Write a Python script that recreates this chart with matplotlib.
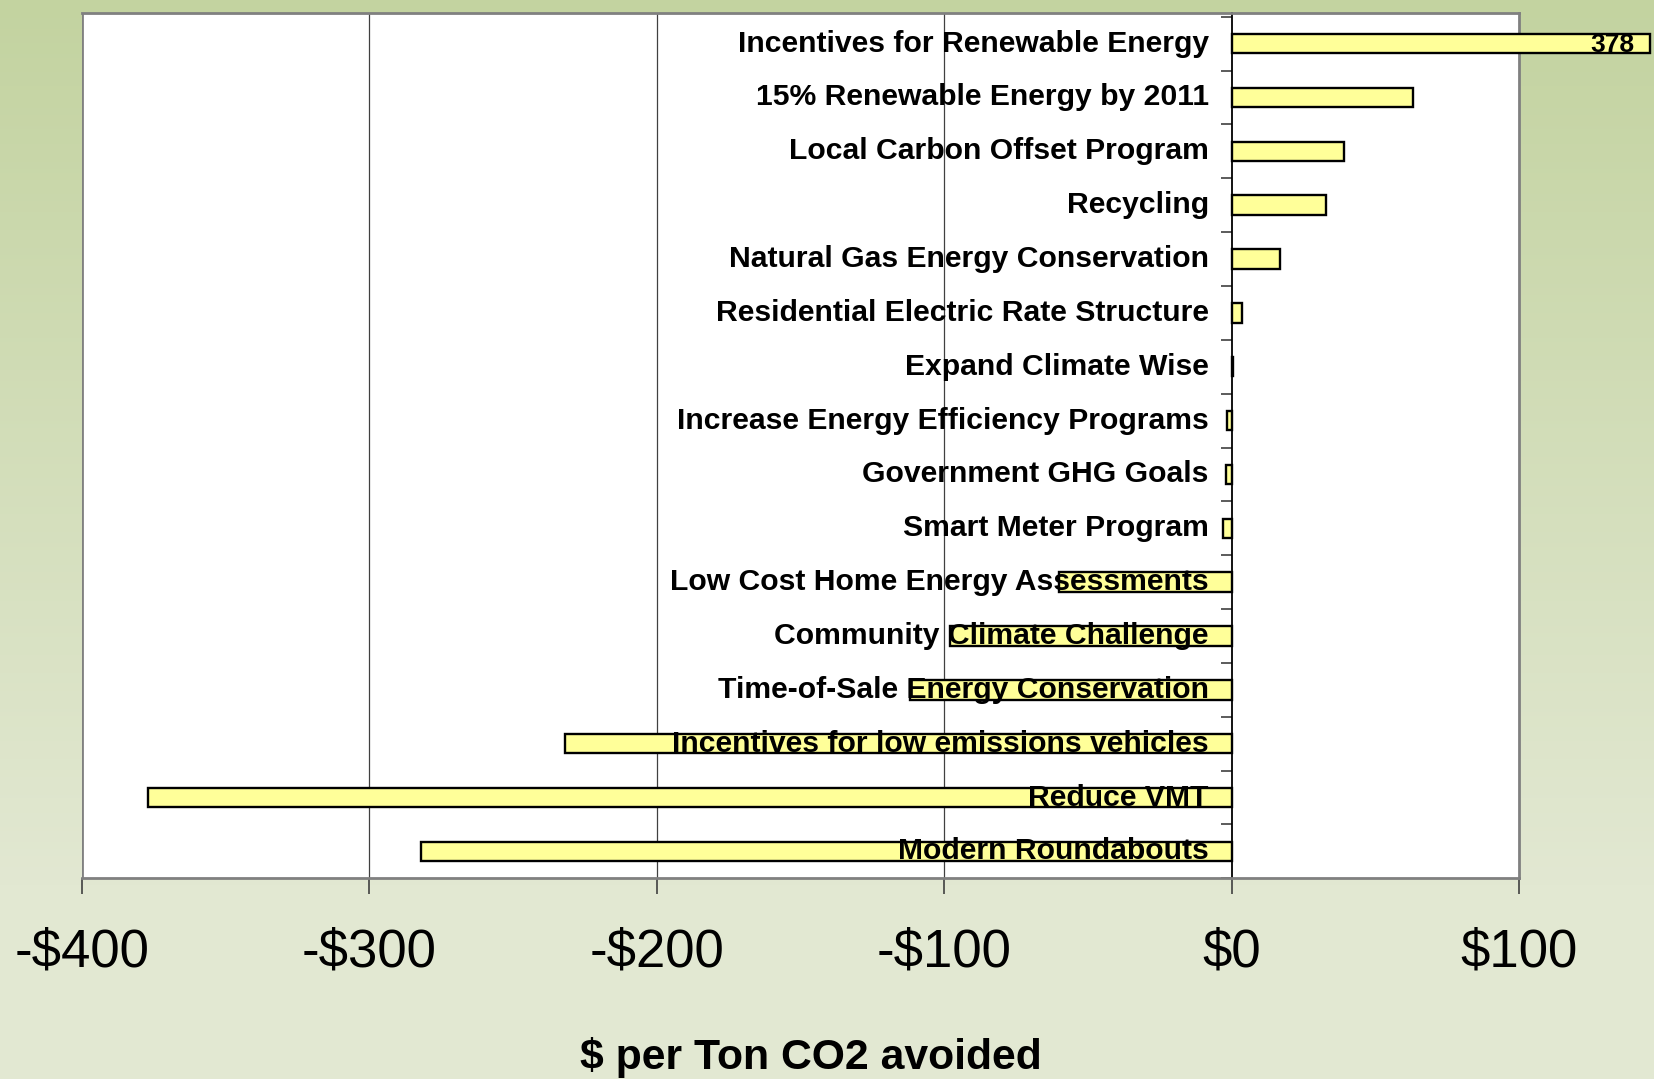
import numpy as np
import matplotlib
matplotlib.use("Agg")
import matplotlib.pyplot as plt

# data, top to bottom as in the chart
programs = [
    "Incentives for Renewable Energy",
    "15% Renewable Energy by 2011",
    "Local Carbon Offset Program",
    "Recycling",
    "Natural Gas Energy Conservation",
    "Residential Electric Rate Structure",
    "Expand Climate Wise",
    "Increase Energy Efficiency Programs",
    "Government GHG Goals",
    "Smart Meter Program",
    "Low Cost Home Energy Assessments",
    "Community Climate Challenge",
    "Time-of-Sale Energy Conservation",
    "Incentives for low emissions vehicles",
    "Reduce VMT",
    "Modern Roundabouts",
]
cost_per_ton = [378, 63, 39, 33, 17, 3.5, 0.6, -1.5, -2, -3,
                -60, -98, -112, -232, -377, -282]
x_ticks = [-400, -300, -200, -100, 0, 100]
x_ticklabels = ["-$400", "-$300", "-$200", "-$100", "$0", "$100"]
bar_cap = 145.5  # the 378 bar is drawn broken at the figure edge

plt.rcParams['font.family'] = ['Liberation Sans', 'DejaVu Sans']

fig = plt.figure(figsize=(16.54, 10.79), dpi=100)

# background gradient
bg = fig.add_axes([0, 0, 1, 1], zorder=-10)
t = np.clip(np.linspace(0, 1, 300) / 0.82, 0, 1)[:, None]
top = np.array([195, 211, 160]) / 255
bot = np.array([226, 232, 210]) / 255
grad = top[None, None, :] * (1 - t[..., None]) + bot[None, None, :] * t[..., None]
grad = np.repeat(grad, 2, axis=1)
bg.imshow(grad, aspect='auto', extent=[0, 1, 0, 1])
bg.axis('off')

ax = fig.add_axes([0.0496, 0.186, 0.8688, 0.802])
ax.set_facecolor('white')

y = np.arange(len(programs))
shown = [min(v, bar_cap) for v in cost_per_ton]
ax.barh(y, shown, height=0.36, color='#ffff99', edgecolor='black',
        linewidth=1.7, zorder=3, clip_on=False)

for yi, name in zip(y, programs):
    ax.text(-8, yi, name, ha='right', va='center', fontsize=21.7,
            fontweight='bold', zorder=5)

# value label for the broken bar
for yi, v in zip(y, cost_per_ton):
    if v > bar_cap:
        ax.text(bar_cap - 5.5, yi + 0.02, f"{v:.0f}", ha='right', va='center',
                fontsize=19, fontweight='bold', zorder=5, clip_on=False)

ax.set_xlim(-400, 100)
ax.set_ylim(len(programs) - 0.5, -0.57)

for gx in [-300, -200, -100]:
    ax.axvline(gx, color='#404040', linewidth=0.9, zorder=1)

# frame
for side in ['top', 'right', 'bottom']:
    ax.spines[side].set_color('#808080')
    ax.spines[side].set_linewidth(2)
ax.spines['left'].set_position(('data', 0))
ax.spines['left'].set_color('black')
ax.spines['left'].set_linewidth(1.3)
ax.axvline(-400, color='#808080', linewidth=2, zorder=2)

ax.set_yticks(np.arange(len(programs) + 1) - 0.5)
ax.set_yticklabels([])
ax.tick_params(axis='y', direction='out', length=8, width=1.2,
               color='#404040')

ax.set_xticks(x_ticks)
ax.set_xticklabels(x_ticklabels, fontsize=38)
ax.tick_params(axis='x', direction='out', length=11.5, width=1.2,
               color='#404040', pad=24)

fig.text(0.49, 0.02, "$ per Ton CO2 avoided", ha='center', va='center',
         fontsize=30.8, fontweight='bold')

fig.savefig("out.png", dpi=100)
